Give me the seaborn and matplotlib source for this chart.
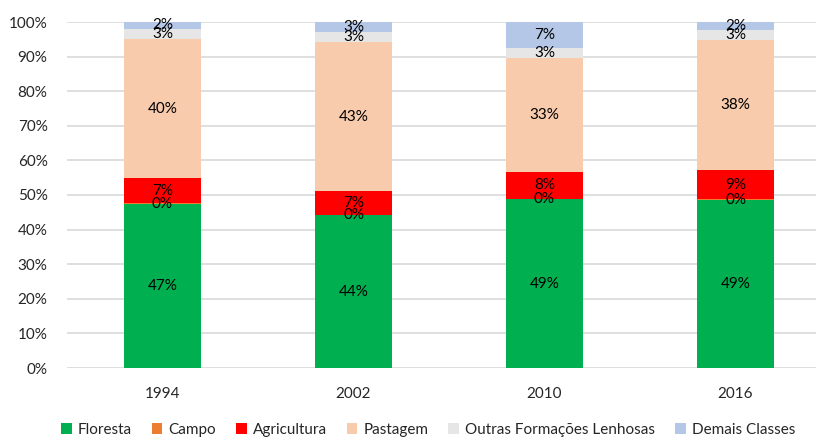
import matplotlib
matplotlib.use("Agg")
import matplotlib.pyplot as plt
from matplotlib.patches import Patch
import numpy as np
import pandas as pd
import seaborn as sns

# Land-use shares (%) per survey year
years = ["1994", "2002", "2010", "2016"]
classes = ["Floresta", "Campo", "Agricultura", "Pastagem",
           "Outras Formações Lenhosas", "Demais Classes"]
floresta = [47.4, 44.1, 48.8, 48.6]
campo = [0.2, 0.1, 0.1, 0.1]
agricultura = [7.2, 6.9, 7.7, 8.6]
pastagem = [40.3, 43.1, 33.1, 37.6]
outras = [2.9, 2.9, 2.9, 2.9]
demais = [2.0, 2.9, 7.4, 2.2]
colors = ["#00B050", "#ED7D31", "#FF0000", "#F8CBAD", "#E7E6E6", "#B4C7E7"]

sns.set_theme(style="white")
plt.rcParams["font.family"] = ["Lato", "DejaVu Sans"]

series = [floresta, campo, agricultura, pastagem, outras, demais]
df = pd.DataFrame({name: vals for name, vals in zip(classes, series)}, index=years)
cum = df.cumsum(axis=1)

fig = plt.figure(figsize=(8.16, 4.38), dpi=100)
ax = fig.add_axes([67 / 816, (438 - 368) / 438, 764 / 816, 346 / 438])

# Stack by overdrawing cumulative totals, top layer first
for name, color in reversed(list(zip(classes, colors))):
    sns.barplot(x=years, y=cum[name].values, color=color, width=0.4,
                saturation=1, linewidth=0, ax=ax, zorder=3)

# Segment labels, centred in each segment
for i, yr in enumerate(years):
    base = 0.0
    for name in classes:
        v = df.loc[yr, name]
        ax.text(i, base + v / 2, f"{v:.0f}%", ha="center", va="center",
                fontsize=11, color="black", zorder=5)
        base += v

ax.set_xlim(-0.5, 3.5)
ax.set_ylim(0, 100)
ax.set_yticks(np.arange(0, 101, 10))
ax.set_yticklabels([f"{t}%" for t in range(0, 101, 10)])
ax.yaxis.grid(True, color="#D9D9D9", linewidth=1.2, zorder=0)
ax.set_axisbelow(True)
for s in ax.spines.values():
    s.set_visible(False)
ax.tick_params(axis="y", length=0, pad=14, labelsize=11, labelcolor="#262626")
ax.tick_params(axis="x", length=0, pad=14, labelsize=11, labelcolor="#262626")
ax.set_xlabel("")
ax.set_ylabel("")

handles = [Patch(facecolor=c, edgecolor="none", label=n) for n, c in zip(classes, colors)]
fig.legend(handles=handles, loc="center", bbox_to_anchor=(428 / 816, 1 - 430 / 438),
           ncol=6, frameon=False, fontsize=11, handlelength=0.7, handleheight=0.7,
           handletextpad=0.4, columnspacing=1.3)

fig.savefig("out.png", dpi=100)
